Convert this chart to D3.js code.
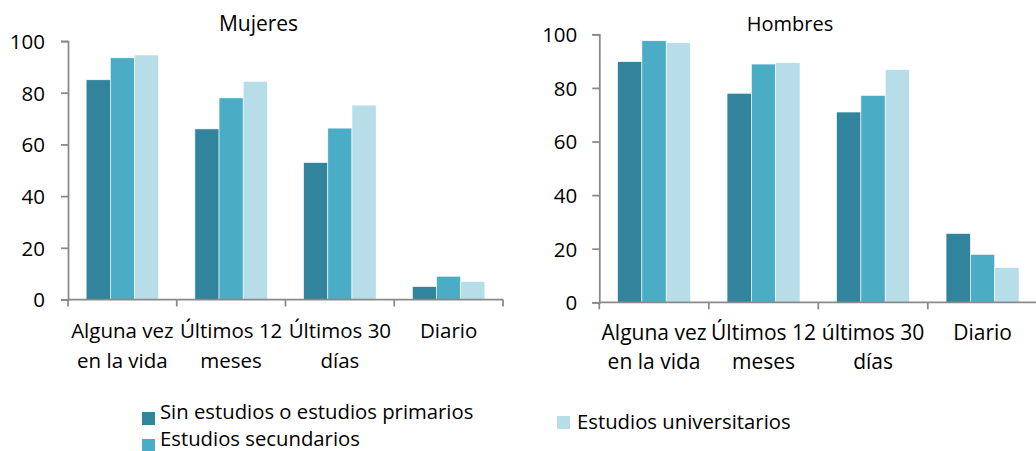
<!DOCTYPE html>
<html>
<head>
<meta charset="utf-8">
<script src="https://cdn.jsdelivr.net/npm/d3@7"></script>
<style>
  html, body { margin: 0; padding: 0; background: #fff; }
  svg { display: block; font-family: "Open Sans", Lato, sans-serif; }
</style>
</head>
<body>
<div id="chart"></div>
<script>
// Data
const seriesNames = ['Sin estudios o estudios primarios', 'Estudios secundarios', 'Estudios universitarios'];
const seriesColors = ['#31849b', '#4bacc6', '#b7dee8'];
const categoriesMujeres = [['Alguna vez', 'en la vida'], ['Últimos 12', 'meses'], ['Últimos 30', 'días'], ['Diario']];
const categoriesHombres = [['Alguna vez', 'en la vida'], ['Últimos 12', 'meses'], ['últimos 30', 'días'], ['Diario']];
const mujeresPrimarios = [85, 66, 53, 5];
const mujeresSecundarios = [93.5, 78, 66.3, 9];
const mujeresUniversitarios = [94.6, 84.4, 75.2, 7];
const hombresPrimarios = [89.8, 78, 71, 25.7];
const hombresSecundarios = [97.6, 88.9, 77.2, 17.9];
const hombresUniversitarios = [96.9, 89.5, 86.8, 13];
const yTicks = [0, 20, 40, 60, 80, 100];

const width = 1036, height = 451;
const axisColor = '#898989';

const svg = d3.select('#chart')
    .append('svg')
    .attr('width', width)
    .attr('height', height);

/**
 * Draw one grouped bar panel
 * */
const drawPanel = (p) => {
    const g = svg.append('g');
    const catKeys = p.categories.map((c, i) => i);

    const x = d3.scaleBand().domain(catKeys).range([p.left, p.right]).paddingInner(0).paddingOuter(0);
    const xSub = d3.scaleBand().domain(d3.range(seriesNames.length)).range([0, x.bandwidth()]).paddingInner(0).paddingOuter(0.75);
    const y = d3.scaleLinear().domain([0, 100]).range([p.bottom, p.top]);

    // bars
    p.values.forEach((vals, s) => {
        g.selectAll('.bar-' + s)
            .data(vals)
            .enter()
            .append('rect')
            .attr('x', (d, i) => x(i) + xSub(s))
            .attr('y', d => y(d))
            .attr('width', xSub.bandwidth())
            .attr('height', d => y(0) - y(d))
            .attr('fill', seriesColors[s])
            .attr('stroke', '#fff')
            .attr('stroke-width', 0.6);
    });

    // y axis
    const yAxis = g.append('g')
        .attr('transform', `translate(${p.left},0)`)
        .call(d3.axisLeft(y).tickValues(yTicks).tickSize(7).tickPadding(p.tickPad));
    yAxis.select('.domain').attr('stroke', axisColor).attr('stroke-width', 1.75);
    yAxis.selectAll('.tick line').attr('stroke', axisColor).attr('stroke-width', 1.75);
    yAxis.selectAll('.tick text').attr('fill', '#000').style('font-size', '20.5px')
        .attr('font-family', '"Open Sans", sans-serif').attr('dy', '0.36em');

    // x axis line and ticks at category boundaries
    g.append('line')
        .attr('x1', p.left).attr('x2', p.right)
        .attr('y1', y(0)).attr('y2', y(0))
        .attr('stroke', axisColor).attr('stroke-width', 1.75);
    const bounds = catKeys.map(i => x(i)).concat([p.right]);
    g.selectAll('.xtick')
        .data(bounds)
        .enter()
        .append('line')
        .attr('x1', d => d).attr('x2', d => d)
        .attr('y1', y(0)).attr('y2', y(0) + 7)
        .attr('stroke', axisColor).attr('stroke-width', 1.75);

    // category labels
    const labels = g.selectAll('.cat')
        .data(p.categories)
        .enter()
        .append('text')
        .attr('text-anchor', 'middle')
        .style('font-size', p.labelSize + 'px');
    labels.selectAll('tspan')
        .data((d, i) => d.map(t => ({ t, i })))
        .enter()
        .append('tspan')
        .attr('x', d => x(d.i) + x.bandwidth() / 2)
        .attr('y', (d, j) => p.labelY + j * p.lineGap)
        .text(d => d.t);

    // title
    g.append('text')
        .attr('x', p.titleX)
        .attr('y', 31)
        .attr('text-anchor', 'middle')
        .style('font-size', p.titleSize + 'px')
        .text(p.title);
}

drawPanel({
    title: 'Mujeres', titleX: 258.5, titleSize: 21,
    categories: categoriesMujeres,
    values: [mujeresPrimarios, mujeresSecundarios, mujeresUniversitarios],
    left: 68, right: 503, top: 41, bottom: 299.5,
    labelY: 338, labelSize: 20.5, lineGap: 30, tickPad: 16
});

drawPanel({
    title: 'Hombres', titleX: 790, titleSize: 20,
    categories: categoriesHombres,
    values: [hombresPrimarios, hombresSecundarios, hombresUniversitarios],
    left: 599.3, right: 1037.3, top: 34.3, bottom: 302.3,
    labelY: 340, labelSize: 21, lineGap: 28.5, tickPad: 15
});

// legend: square position and text baseline per item
const legendItems = [
    { i: 0, x: 142, sq: 412, base: 418.5 },
    { i: 1, x: 142, sq: 439, base: 445.5 },
    { i: 2, x: 557, sq: 416, base: 429 }
];
const legend = svg.selectAll('.legend')
    .data(legendItems)
    .enter()
    .append('g')
    .attr('transform', d => `translate(${d.x},0)`);
legend.append('rect')
    .attr('y', d => d.sq)
    .attr('width', 13).attr('height', 13)
    .attr('fill', d => seriesColors[d.i]);
legend.append('text')
    .attr('x', d => d.i === 2 ? 20 : 18)
    .attr('y', d => d.base)
    .style('font-size', '20.3px')
    .text(d => seriesNames[d.i]);
</script>
</body>
</html>
